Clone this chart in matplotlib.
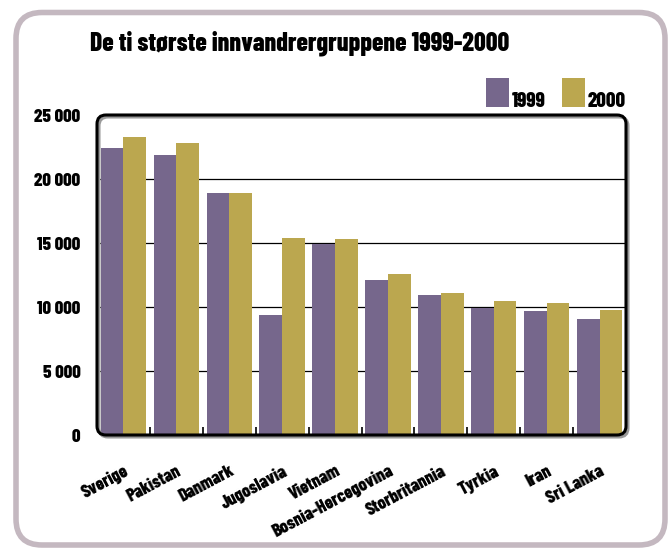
import matplotlib
matplotlib.use('Agg')
import matplotlib.pyplot as plt
from matplotlib.patches import FancyBboxPatch, Rectangle
from matplotlib.transforms import IdentityTransform
import numpy as np

# ---- data ----
countries = ['Sverige', 'Pakistan', 'Danmark', 'Jugoslavia', 'Vietnam',
             'Bosnia-Hercegovina', 'Storbritannia', 'Tyrkia', 'Iran', 'Sri Lanka']
v1999 = [22400, 21900, 18900, 9400, 14950, 12100, 10950, 9900, 9650, 9050]
v2000 = [23250, 22850, 18900, 15400, 15300, 12600, 11100, 10450, 10300, 9800]
series_names = ['1999', '2000']
yticks = [0, 5000, 10000, 15000, 20000, 25000]
ytick_labels = ['0', '5 000', '10 000', '15 000', '20 000', '25 000']
title = 'De ti største innvandrergruppene 1999-2000'

purple = '#76678C'
gold = '#BBA74F'
colors = [purple, gold]
frame_col = '#C4B8C0'
WT = 800

plt.rcParams['font.family'] = ['Barlow Condensed', 'DejaVu Sans']
plt.rcParams['font.weight'] = WT

W, H = 672, 548
fig = plt.figure(figsize=(W / 100, H / 100), dpi=100)
fig.patch.set_facecolor('white')

# axes area in pixels
L, R, T, B = 97, 626, 115, 435
ax = fig.add_axes([L / W, (H - B) / H, (R - L) / W, (B - T) / H])
ax.set_facecolor('none')

x = np.arange(len(countries))
bw = 0.43
ax.bar(x - bw / 2, v1999, bw, color=colors[0], zorder=2, linewidth=0)
ax.bar(x + bw / 2, v2000, bw, color=colors[1], zorder=2, linewidth=0)
ax.set_xlim(-0.5, len(countries) - 0.5)
ax.set_ylim(0, 25000)
for s in ax.spines.values():
    s.set_visible(False)

for t in yticks[1:-1]:
    ax.axhline(t, color='black', lw=0.9, zorder=1)

ax.set_yticks(yticks)
ax.set_yticklabels(ytick_labels, fontsize=13.5, fontweight=WT)
ax.tick_params(axis='y', length=0, pad=12)

ax.set_xticks(x)
ax.set_xticklabels(countries, fontsize=13, fontweight=WT, rotation=28,
                   ha='right', va='top', rotation_mode='anchor')
ax.tick_params(axis='x', which='major', length=0, pad=20)
ax.set_xticks(x[:-1] + 0.5, minor=True)
ax.tick_params(axis='x', which='minor', direction='in', length=6, width=1.2, color='black')

# rounded axes box with subtle shadow
shadow = FancyBboxPatch((L + 2, H - B - 2), R - L, B - T,
                        boxstyle='round,pad=0,rounding_size=9',
                        transform=IdentityTransform(), facecolor='none',
                        edgecolor='#9a9a9a', lw=2.2, zorder=4)
box = FancyBboxPatch((L, H - B), R - L, B - T,
                     boxstyle='round,pad=0,rounding_size=9',
                     transform=IdentityTransform(), facecolor='none',
                     edgecolor='black', lw=2.2, zorder=5)
fig.add_artist(shadow)
fig.add_artist(box)

# outer frame
frame = FancyBboxPatch((16, 3), 649, 532.5,
                       boxstyle='round,pad=0,rounding_size=26',
                       transform=IdentityTransform(), facecolor='none',
                       edgecolor=frame_col, lw=4.0, zorder=0)
fig.add_artist(frame)

# title
fig.text(90 / W, 1 - 51 / H, title, fontsize=18.5, fontweight=WT, va='baseline', ha='left')

# legend
leg_x = [486, 562]
for name, col, lx in zip(series_names, colors, leg_x):
    fig.add_artist(Rectangle((lx, H - 107), 23, 29, transform=IdentityTransform(),
                             facecolor=col, edgecolor='none'))
    fig.text((lx + 26) / W, 1 - 107 / H, name, fontsize=15, fontweight=WT,
             va='baseline', ha='left')

fig.savefig('out.png', dpi=100)
